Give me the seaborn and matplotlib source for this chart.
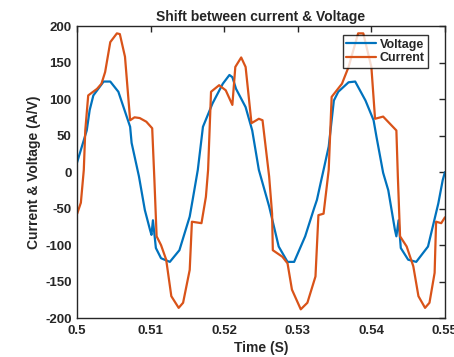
import seaborn as sns
import matplotlib.pyplot as plt
import pandas as pd

# values
time_v = [0.4998, 0.5013, 0.5017, 0.5022, 0.5036, 0.5045, 0.5056, 0.5072, 0.5074, 0.5084,
          0.5092, 0.5099, 0.5101, 0.5103, 0.5107, 0.5114, 0.5126, 0.5139, 0.5153, 0.5157, 0.5164,
          0.5171, 0.5184, 0.5198, 0.5207, 0.5211, 0.5216, 0.5229, 0.5238, 0.5247,
          0.5261, 0.5274, 0.5286, 0.5295, 0.5310, 0.5322, 0.5326, 0.5331, 0.5335,
          0.5342, 0.5349, 0.5355, 0.5369, 0.5378, 0.5392, 0.5403, 0.5407, 0.5416,
          0.5423, 0.5432, 0.5434, 0.5437, 0.5440, 0.5450, 0.5461, 0.5477, 0.5491, 0.5497, 0.5500]
voltage = [7, 57, 85, 105, 124, 124, 110, 62, 40, -6,
           -52, -79, -86, -66, -104, -118, -123, -107, -61, -38, 3,
           62, 94, 121, 133, 130, 114, 89, 57, 3,
           -47, -102, -123, -123, -88, -50, -38, -15, 3,
           35, 98, 110, 123, 124, 98, 71, 48, -1,
           -25, -79, -88, -66, -104, -120, -123, -102, -43, -11, 0]

time_i = [0.5000, 0.5005, 0.5009, 0.5011, 0.5015, 0.5027, 0.5033, 0.5038, 0.5045, 0.5054, 0.5058,
          0.5065, 0.5072, 0.5078, 0.5085, 0.5094, 0.5102, 0.5105, 0.5108, 0.5114, 0.5121,
          0.5128, 0.5138, 0.5144, 0.5153, 0.5156, 0.5169, 0.5175, 0.5178,
          0.5182, 0.5193, 0.5202, 0.5211, 0.5215, 0.5223, 0.5229, 0.5237, 0.5247, 0.5252,
          0.5261, 0.5265, 0.5266, 0.5279, 0.5286, 0.5292, 0.5304, 0.5313, 0.5324, 0.5328,
          0.5335, 0.5342, 0.5346, 0.5360, 0.5369, 0.5382, 0.5389, 0.5400, 0.5405, 0.5416,
          0.5434, 0.5436, 0.5439, 0.5448, 0.5457, 0.5464, 0.5473, 0.5479, 0.5486, 0.5488,
          0.5495, 0.5500]
current = [-57, -42, 3, 57, 105, 114, 121, 137, 178, 190, 189,
           158, 71, 75, 74, 69, 60, -11, -88, -100, -120,
           -170, -186, -179, -134, -68, -70, -34, 3,
           110, 119, 112, 92, 144, 157, 144, 67, 73, 71,
           -6, -57, -107, -116, -125, -161, -188, -179, -143, -59,
           -57, 3, 103, 121, 144, 190, 190, 144, 73, 76,
           57, -6, -88, -102, -129, -170, -186, -179, -138, -68,
           -70, -62]

df_v = pd.DataFrame({"t": time_v, "val": voltage})
df_i = pd.DataFrame({"t": time_i, "val": current})

sns.set_style("white")
plt.rcParams["font.family"] = ["Liberation Sans", "DejaVu Sans"]
plt.rcParams["font.weight"] = "bold"
plt.rcParams["axes.unicode_minus"] = False

fig = plt.figure(figsize=(4.54, 3.57), dpi=100)
ax = fig.add_axes([0.17, 0.109, 0.81, 0.818])

sns.lineplot(data=df_v, x="t", y="val", sort=False, color="#0072BD", linewidth=1.6,
             label="Voltage", ax=ax)
sns.lineplot(data=df_i, x="t", y="val", sort=False, color="#D95319", linewidth=1.6,
             label="Current", ax=ax)

ax.set_xlim(0.5, 0.55)
ax.set_ylim(-200, 200)
ax.set_xticks([0.5, 0.51, 0.52, 0.53, 0.54, 0.55])
ax.set_xticklabels(["0.5", "0.51", "0.52", "0.53", "0.54", "0.55"])
ax.set_yticks(range(-200, 201, 50))
ax.tick_params(direction="in", top=True, right=True, length=4, width=1,
               labelsize=9.5, colors="#262626")
ax.tick_params(axis="x", pad=5)
ax.tick_params(axis="y", pad=4)
for lab in ax.get_xticklabels() + ax.get_yticklabels():
    lab.set_fontweight("bold")
for sp in ax.spines.values():
    sp.set_color("#262626")
    sp.set_linewidth(1)

ax.set_title("Shift between current & Voltage", fontsize=10, fontweight="bold", pad=4)
ax.set_xlabel("Time (S)", fontsize=10, fontweight="bold", labelpad=3)
ax.set_ylabel("Current & Voltage (A/V)", fontsize=10, fontweight="bold", labelpad=3)

leg = ax.legend(loc="upper right", bbox_to_anchor=(0.955, 0.97), borderaxespad=0,
                fontsize=9, frameon=True, fancybox=False, handlelength=2.4,
                borderpad=0.3, labelspacing=0.15, handletextpad=0.25)
leg.get_frame().set_edgecolor("black")
leg.get_frame().set_linewidth(1)
for t in leg.get_texts():
    t.set_fontweight("bold")

fig.savefig("out.png", dpi=100)
